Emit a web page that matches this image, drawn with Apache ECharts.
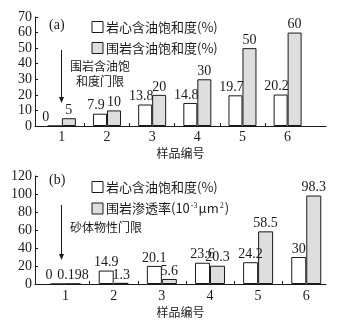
<!DOCTYPE html>
<html>
<head>
<meta charset="utf-8">
<script src="https://cdn.jsdelivr.net/npm/echarts@6.0.0/dist/echarts.min.js"></script>
<style>
  html, body { margin: 0; padding: 0; background: #fff; }
  #main { width: 337px; height: 325px; }
</style>
</head>
<body>
<div id="main"></div>
<script>
const samples = [1, 2, 3, 4, 5, 6]
const tickSpots = [1.5, 2.5, 3.5, 4.5, 5.5]

// (a) saturation, %
const coreSatA = [0, 7.9, 13.8, 14.8, 19.7, 20.2]
const wallSatA = [5, 10, 20, 30, 50, 60]

// (b) saturation % and permeability 10^-3 um^2
const coreSatB = [0, 14.9, 20.1, 23.6, 24.2, 30]
const wallPermB = [0.198, 1.3, 5.6, 20.3, 58.5, 98.3]

const NAME_CORE = '岩心含油饱和度(%)'
const NAME_WALL_SAT = '围岩含油饱和度(%)'
const NAME_WALL_PERM = '围岩渗透率(10-3μm2)'

const SERIF = '"Liberation Serif", "DejaVu Serif", serif'
const CJK = '"Noto Sans CJK SC", sans-serif'
const INK = '#1a1a1a'
const GRAY = '#dedede'

function pairs(values, shift) {
  return values.map((v, i) => {
    const item = { value: [samples[i], v] }
    if (v === 0) item.label = { offset: [-9, 0] }
    else if (shift) item.label = { offset: [shift, 0] }
    return item
  })
}

function xAxisFor(gridIndex, min, max, nameGap, labelMargin) {
  return {
    type: 'value',
    gridIndex,
    min,
    max,
    name: '样品编号',
    nameLocation: 'middle',
    nameGap,
    nameTextStyle: { fontFamily: CJK, fontSize: 12, color: INK },
    splitLine: { show: false },
    axisLine: { lineStyle: { color: INK, width: 1 } },
    axisTick: { inside: true, length: 3, customValues: tickSpots, lineStyle: { color: INK } },
    axisLabel: { customValues: samples, margin: labelMargin, fontFamily: SERIF, fontSize: 14, color: INK },
  }
}

function yAxisFor(gridIndex, max, interval) {
  return {
    type: 'value',
    gridIndex,
    min: 0,
    max,
    interval,
    splitLine: { show: false },
    axisLine: { show: true, lineStyle: { color: INK, width: 1 } },
    axisTick: { show: true, inside: true, length: 3, lineStyle: { color: INK } },
    axisLabel: { margin: 3, fontFamily: SERIF, fontSize: 14, color: INK },
  }
}

function barSeries(name, values, axisIndex, color, width, shift) {
  return {
    name,
    type: 'bar',
    xAxisIndex: axisIndex,
    yAxisIndex: axisIndex,
    barWidth: width,
    barGap: '0%',
    itemStyle: { color, borderColor: INK, borderWidth: 1 },
    label: {
      show: true,
      position: 'top',
      distance: 1,
      fontFamily: SERIF,
      fontSize: 14,
      color: INK,
      formatter: (p) => String(p.value[1]),
    },
    data: pairs(values, shift),
  }
}

function legendAt(top, names) {
  return {
    orient: 'vertical',
    left: 86.5,
    top: top + 0.5,
    itemWidth: 11,
    itemHeight: 11,
    itemGap: 8,
    icon: 'rect',
    selectedMode: false,
    data: names,
    itemStyle: { borderWidth: 1, borderColor: INK },
    formatter: (name) => name === NAME_WALL_PERM ? '围岩渗透率(10{sup|-3}μm{sup|2})' : name,
    textStyle: {
      fontFamily: CJK,
      fontSize: 13,
      color: INK,
      padding: [0, 0, 0, -2],
      rich: {
        sup: { fontFamily: SERIF, fontSize: 8, verticalAlign: 'top', padding: [0, 1, 6, 1], color: INK },
      },
    },
  }
}

function arrow(x, y1, y2) {
  return [
    { type: 'line', shape: { x1: x, y1, x2: x, y2: y2 - 5 }, style: { stroke: INK, lineWidth: 1 } },
    { type: 'polygon', shape: { points: [[x - 2.5, y2 - 6], [x + 2.5, y2 - 6], [x, y2]] }, style: { fill: INK } },
  ]
}

function note(text, x, y, font) {
  return {
    type: 'text',
    left: x,
    top: y,
    style: { text, font, fill: INK, textAlign: 'left', textVerticalAlign: 'middle' },
  }
}

const chart = echarts.init(document.getElementById('main'))
chart.setOption({
  backgroundColor: '#fff',
  animation: false,
  grid: [
    { left: 35, right: 11, top: 17, height: 109 },
    { left: 35, right: 11, top: 176, height: 108 },
  ],
  xAxis: [
    xAxisFor(0, 0.405, 6.85, 21, 4),
    xAxisFor(1, 0.365, 6.41, 22, 5),
  ],
  yAxis: [
    yAxisFor(0, 70, 10),
    yAxisFor(1, 120, 20),
  ],
  legend: [
    legendAt(15, [NAME_CORE, NAME_WALL_SAT]),
    legendAt(175, [NAME_CORE, NAME_WALL_PERM]),
  ],
  graphic: [
    note('(a)', 49, 18, '14px ' + SERIF),
    ...arrow(61.5, 50, 103),
    note('围岩含油饱', 70, 60, '12px ' + CJK),
    note('和度门限', 76, 75, '12px ' + CJK),
    note('(b)', 49, 173, '14px ' + SERIF),
    ...arrow(61.5, 205, 260),
    note('砂体物性门限', 70, 221, '12px ' + CJK),
  ],
  series: [
    barSeries(NAME_CORE, coreSatA, 0, '#ffffff', 14, -4),
    barSeries(NAME_WALL_SAT, wallSatA, 0, GRAY, 14, 0),
    barSeries(NAME_CORE, coreSatB, 1, '#ffffff', 15, 0),
    barSeries(NAME_WALL_PERM, wallPermB, 1, GRAY, 15, 0),
  ],
})
</script>
</body>
</html>
